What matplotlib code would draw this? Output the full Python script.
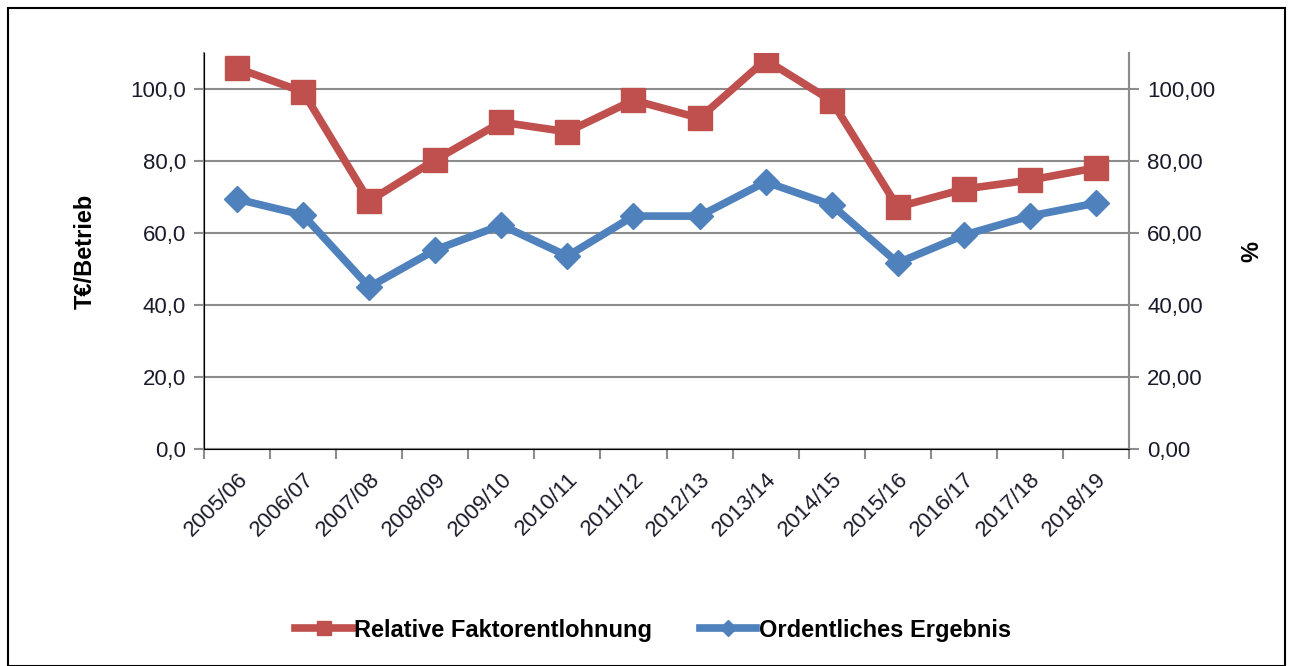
import matplotlib.pyplot as plt
import numpy as np
from matplotlib.patches import Rectangle

plt.rcParams['font.family'] = ['Liberation Sans', 'DejaVu Sans']

years = ['2005/06', '2006/07', '2007/08', '2008/09', '2009/10', '2010/11', '2011/12',
         '2012/13', '2013/14', '2014/15', '2015/16', '2016/17', '2017/18', '2018/19']
relative_faktor = [105.8, 99.2, 68.9, 80.3, 90.8, 88.1, 96.9, 91.9, 108.1, 96.7, 67.2, 72.2, 74.7, 78.1]
ordentlich = [69.4, 65.0, 45.0, 55.3, 62.2, 53.6, 64.7, 64.7, 74.2, 67.8, 51.7, 59.4, 64.7, 68.3]
yticks = [0, 20, 40, 60, 80, 100]

red = '#C0504D'
blue = '#4F81BD'
grid_c = '#8C8C8C'
txt_c = '#1a1a2a'
fs = 16

fig = plt.figure(figsize=(12.93, 6.66), dpi=100)
# outer frame
fig.patches.append(Rectangle((8/1293, 0.0), 1277/1293, 1-8/666, transform=fig.transFigure,
                             fill=False, edgecolor='black', linewidth=1.5))

ax = fig.add_axes([204/1293, 1-449/666, 925/1293, 396/666])
x = np.arange(len(years))
ax.plot(x, relative_faktor, '-s', color=red, lw=5.5, ms=17, label='Relative Faktorentlohnung', zorder=3)
ax.plot(x, ordentlich, '-D', color=blue, lw=5.5, ms=13, label='Ordentliches Ergebnis', zorder=3)

ax.set_xlim(-0.5, len(years) - 0.5)
ax.set_ylim(0, 110)
ax.set_yticks(yticks)
ax.set_yticklabels([f'{v:.1f}'.replace('.', ',') for v in yticks], fontsize=fs, color=txt_c)
ax.yaxis.grid(True, color=grid_c, lw=1.5)
ax.set_axisbelow(True)

ax.set_xticks(np.arange(-0.5, len(years), 1))
ax.set_xticklabels([])
ax.set_xticks(x, minor=True)
ax.set_xticklabels(years, minor=True, rotation=45, ha='right', va='top',
                   rotation_mode='anchor', fontsize=fs, color=txt_c)
ax.tick_params(axis='x', which='minor', length=0, pad=14)
ax.tick_params(axis='x', which='major', length=7, width=1.5, color=grid_c)
ax.tick_params(axis='y', length=7, width=1.5, color=grid_c, pad=6)

ax.spines['top'].set_visible(False)
for s in ['left', 'right', 'bottom']:
    ax.spines[s].set_color(grid_c)
    ax.spines[s].set_linewidth(1.5)

ax.set_ylabel('T€/Betrieb', fontsize=17, fontweight='bold', labelpad=24)

ax2 = ax.twinx()
ax2.set_ylim(0, 110)
ax2.set_yticks(yticks)
ax2.set_yticklabels([f'{v:.2f}'.replace('.', ',') for v in yticks], fontsize=fs, color=txt_c)
ax2.tick_params(axis='y', length=7, width=1.5, color=grid_c, pad=6)
ax2.spines['top'].set_visible(False)
ax2.spines['right'].set_color(grid_c)
ax2.spines['right'].set_linewidth(1.5)
ax2.set_ylabel('%', fontsize=17, fontweight='bold', labelpad=18)

fig.legend(loc='center', bbox_to_anchor=(653/1293, 1-630/666), ncol=2, frameon=False,
           prop={'size': 17, 'weight': 'bold'}, handlelength=2.4,
           columnspacing=2.0, handletextpad=0.1, markerscale=0.6)

fig.savefig('out.png', dpi=100)
